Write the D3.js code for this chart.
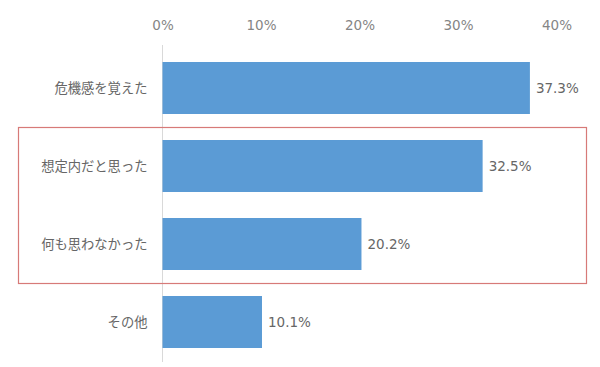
<!DOCTYPE html>
<html>
<head>
<meta charset="utf-8">
<script src="https://cdn.jsdelivr.net/npm/d3@7"></script>
<style>
  body { margin: 0; background: #fff; }
  svg text { font-family: "Noto Sans CJK JP", "Noto Sans", sans-serif; fill: #595959; }
  svg text.num { font-family: "DejaVu Sans", "Noto Sans", sans-serif; }
</style>
</head>
<body>
<div id="chart"></div>
<script>
// chart data
var categories = ["危機感を覚えた", "想定内だと思った", "何も思わなかった", "その他"];
var values = [37.3, 32.5, 20.2, 10.1];
var tickValues = [0, 10, 20, 30, 40];
var highlighted = ["想定内だと思った", "何も思わなかった"];

var width = 600, height = 367;

var svg = d3.select("#chart")
    .append("svg")
    .attr("width", width)
    .attr("height", height);

// scales
var x = d3.scaleLinear()
    .domain([0, 40])
    .range([162.5, 556.5]);

var y = d3.scaleBand()
    .domain(categories)
    .range([49, 361])
    .paddingInner(1 / 3)
    .paddingOuter(1 / 6);

// top axis labels only
var xAxis = d3.axisTop(x)
    .tickValues(tickValues)
    .tickSize(0)
    .tickPadding(0)
    .tickFormat(function(d) { return d + "%"; });

var gx = svg.append("g")
    .attr("transform", "translate(0,30)")
    .call(xAxis);
gx.select(".domain").remove();
gx.selectAll("text")
    .attr("class", "num")
    .style("font-size", "13.5px")
    .style("fill", "#858585");

// vertical baseline
svg.append("line")
    .attr("x1", x(0)).attr("x2", x(0))
    .attr("y1", 45).attr("y2", 362)
    .attr("stroke", "#d9d9d9")
    .attr("stroke-width", 1);

// bars
svg.append("g").selectAll("rect")
    .data(values)
    .enter().append("rect")
    .attr("x", x(0))
    .attr("y", function(d, i) { return y(categories[i]); })
    .attr("width", function(d) { return x(d) - x(0); })
    .attr("height", y.bandwidth())
    .attr("fill", "#5b9bd5");

// value labels
svg.append("g").selectAll("text")
    .data(values)
    .enter().append("text")
    .attr("class", "num")
    .attr("x", function(d) { return x(d) + 6; })
    .attr("y", function(d, i) { return y(categories[i]) + y.bandwidth() / 2; })
    .attr("dy", "0.36em")
    .style("font-size", "13.5px")
    .style("fill", "#666")
    .text(function(d) { return d.toFixed(1) + "%"; });

// category labels
svg.append("g").selectAll("text")
    .data(categories)
    .enter().append("text")
    .attr("x", 147.5)
    .attr("y", function(d) { return y(d) + y.bandwidth() / 2; })
    .attr("dy", "0.36em")
    .attr("text-anchor", "end")
    .style("font-size", "13.3px")
    .style("fill", "#666")
    .text(function(d) { return d; });

// red highlight box around two categories
var y0 = y(highlighted[0]) - (y.step() - y.bandwidth()) / 2;
var y1 = y(highlighted[1]) + y.bandwidth() + (y.step() - y.bandwidth()) / 2;
svg.append("rect")
    .attr("x", 18.5)
    .attr("y", Math.round(y0) + 0.5)
    .attr("width", 568)
    .attr("height", Math.round(y1 - y0))
    .attr("fill", "none")
    .attr("stroke", "#d77a78")
    .attr("stroke-width", 1.2);
</script>
</body>
</html>
